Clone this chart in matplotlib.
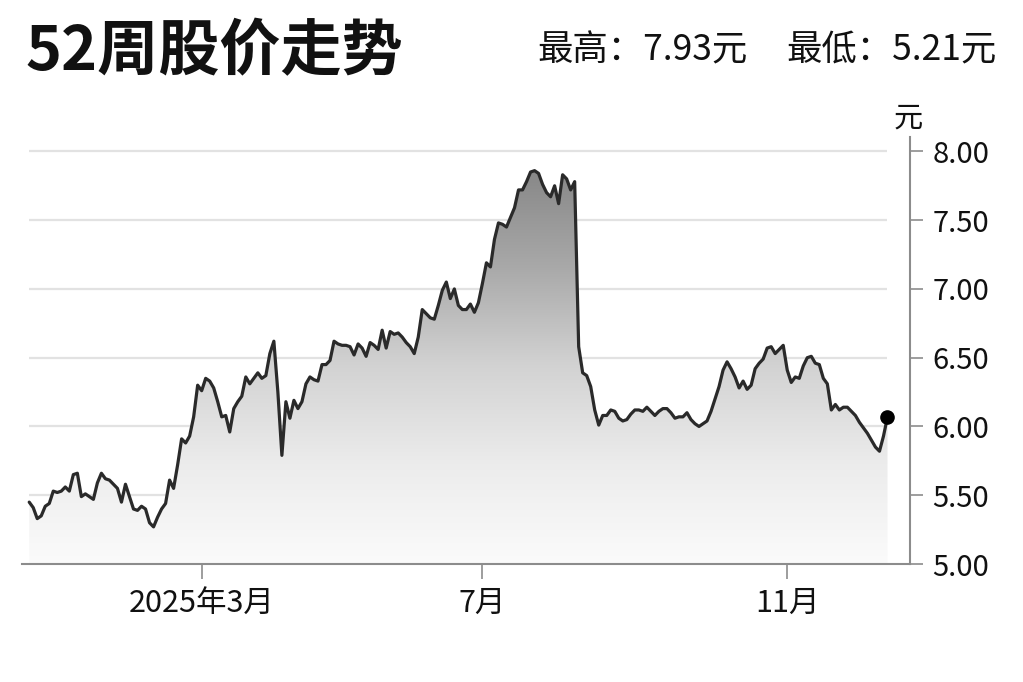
import numpy as np
import matplotlib
matplotlib.use('Agg')
import matplotlib.pyplot as plt
from matplotlib.colors import LinearSegmentedColormap

plt.rcParams['font.family'] = ['Noto Sans CJK SC', 'DejaVu Sans']

# daily close, 52 weeks
prices = [
    5.45, 5.41, 5.33, 5.35, 5.42, 5.44, 5.53, 5.52, 5.53, 5.56,
    5.53, 5.65, 5.66, 5.49, 5.51, 5.49, 5.47, 5.59, 5.66, 5.62,
    5.61, 5.58, 5.55, 5.45, 5.58, 5.49, 5.40, 5.39, 5.42, 5.40,
    5.30, 5.27, 5.34, 5.40, 5.44, 5.61, 5.55, 5.72, 5.91, 5.88,
    5.93, 6.07, 6.30, 6.26, 6.35, 6.33, 6.28, 6.18, 6.07, 6.08,
    5.96, 6.13, 6.18, 6.22, 6.36, 6.31, 6.35, 6.39, 6.35, 6.37,
    6.53, 6.62, 6.25, 5.79, 6.18, 6.06, 6.19, 6.13, 6.18, 6.31,
    6.36, 6.34, 6.33, 6.45, 6.45, 6.48, 6.62, 6.60, 6.59, 6.59,
    6.58, 6.52, 6.60, 6.57, 6.51, 6.61, 6.59, 6.56, 6.70, 6.57,
    6.69, 6.67, 6.68, 6.65, 6.61, 6.58, 6.53, 6.65, 6.85, 6.82,
    6.79, 6.78, 6.88, 6.99, 7.05, 6.93, 7.00, 6.88, 6.85, 6.85,
    6.89, 6.83, 6.90, 7.04, 7.19, 7.16, 7.36, 7.48, 7.47, 7.45,
    7.52, 7.59, 7.72, 7.72, 7.78, 7.85, 7.86, 7.84, 7.76, 7.70,
    7.67, 7.75, 7.62, 7.83, 7.80, 7.72, 7.78, 6.58, 6.39, 6.37,
    6.29, 6.12, 6.01, 6.08, 6.08, 6.12, 6.11, 6.06, 6.04, 6.05,
    6.09, 6.12, 6.12, 6.11, 6.14, 6.11, 6.08, 6.11, 6.13, 6.13,
    6.10, 6.06, 6.07, 6.07, 6.10, 6.05, 6.02, 6.00, 6.02, 6.04,
    6.11, 6.20, 6.29, 6.41, 6.47, 6.42, 6.36, 6.28, 6.33, 6.27,
    6.30, 6.42, 6.46, 6.49, 6.57, 6.58, 6.53, 6.56, 6.59, 6.41,
    6.32, 6.36, 6.35, 6.44, 6.50, 6.51, 6.46, 6.45, 6.35, 6.31,
    6.12, 6.16, 6.12, 6.14, 6.14, 6.11, 6.08, 6.03, 5.99, 5.95,
    5.90, 5.85, 5.82, 5.93, 6.07,
]
month_pos = [43, 113, 189]
month_labels = ['2025年3月', '7月', '11月']
price_ticks = [5.0, 5.5, 6.0, 6.5, 7.0, 7.5, 8.0]

title = '52周股价走势'
high_txt = '最高：7.93元'
low_txt = '最低：5.21元'

fig = plt.figure(figsize=(10.23, 6.82), dpi=100)
ax = fig.add_axes([0.0215, 0.173, 0.868, 0.6266])
x = np.arange(len(prices))

# grid lines only over the data span
ax.hlines(price_ticks[1:], x[0], x[-1], color='#e2e2e2', lw=1.6, zorder=1)

# gray gradient under the line
cmap = LinearSegmentedColormap.from_list('g', ['#fbfbfb', '#ececec', '#d2d2d2', '#a8a8a8', '#868686'])
grad = np.linspace(0, 1, 256).reshape(-1, 1)
im = ax.imshow(grad, extent=[x[0], x[-1], 5.0, 7.9], origin='lower',
               cmap=cmap, aspect='auto', zorder=2)
area = ax.fill_between(x, prices, 5.0, facecolor='none', edgecolor='none')
im.set_clip_path(area.get_paths()[0], transform=ax.transData)

ax.plot(x, prices, color='#2a2a2a', lw=2.3, zorder=4,
        solid_joinstyle='round', solid_capstyle='round')
ax.plot(x[-1], prices[-1], 'o', color='black', ms=9.5, zorder=5)

ax.set_xlim(-1.8, 219.6)
ax.set_ylim(5.0, 8.107)

for s in ['top', 'left']:
    ax.spines[s].set_visible(False)
for s in ['right', 'bottom']:
    ax.spines[s].set_color('#8c8c8c')
    ax.spines[s].set_linewidth(1.5)

ax.yaxis.tick_right()
ax.set_yticks(price_ticks)
ax.set_yticklabels(['%.2f' % v for v in price_ticks])
ax.set_xticks(month_pos)
ax.set_xticklabels(month_labels)
ax.tick_params(axis='y', direction='out', length=9.5, width=1.2, color='#8c8c8c',
               pad=6.5, labelsize=21, labelcolor='#111111')
ax.tick_params(axis='x', direction='out', length=11, width=1.2, color='#8c8c8c',
               pad=6, labelsize=22, labelcolor='#111111')

fig.text(908 / 1023, 1 - 119 / 682, '元', ha='center', va='center', fontsize=21, color='#111111')
fig.text(25 / 1023, 1 - 52 / 682, title, fontsize=44, fontweight='bold', va='center', color='#111111')
fig.text(537 / 1023, 1 - 50 / 682, high_txt, fontsize=25.5, va='center', color='#111111')
fig.text(997 / 1023, 1 - 50 / 682, low_txt, fontsize=25.5, va='center', ha='right', color='#111111')

fig.savefig('out.png', dpi=100, facecolor='white')
